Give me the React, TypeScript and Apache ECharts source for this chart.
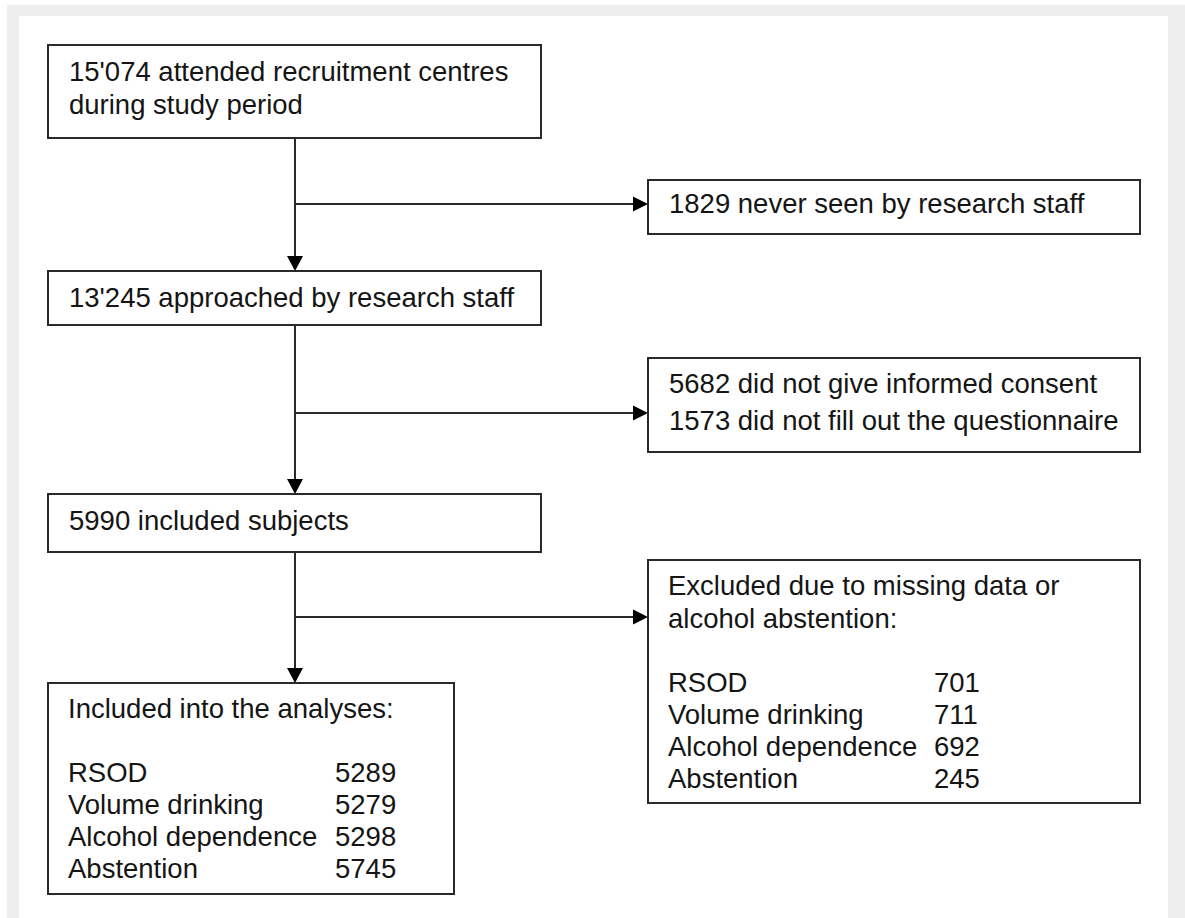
import React, { useEffect, useRef } from "react";
import * as echarts from "echarts";

// ---- Data (flow counts) ----
const stepLabels = [
  ["15'074 attended recruitment centres", "during study period"],
  ["13'245 approached by research staff"],
  ["5990 included subjects"],
];
const exclusionLabels = [
  ["1829 never seen by research staff"],
  ["5682 did not give informed consent", "1573 did not fill out the questionnaire"],
];
const outcomeNames = ["RSOD", "Volume drinking", "Alcohol dependence", "Abstention"];
const includedValues = [5289, 5279, 5298, 5745];
const excludedValues = [701, 711, 692, 245];
const includedTitle = ["Included into the analyses:"];
const excludedTitle = ["Excluded due to missing data or", "alcohol abstention:"];

const FONT = '"Liberation Sans", Arial, Helvetica, sans-serif';
const FS = 27.5;
const INK = "#151515";
const LINE = "#2a2a2a";

type Box = { x: number; y: number; w: number; h: number };

export default function App() {
  const ref = useRef<HTMLDivElement>(null);
  useEffect(() => {
    if (!ref.current) return;
    const chart = echarts.init(ref.current, undefined, { renderer: "svg" });
    const els: any[] = [];

    // frame
    els.push({ type: "rect", shape: { x: 7, y: 5, width: 1178, height: 913 }, style: { fill: "#eeeeee" }, silent: true });
    els.push({ type: "rect", shape: { x: 19, y: 16, width: 1149, height: 902 }, style: { fill: "#ffffff" }, silent: true });

    const box = (b: Box) =>
      els.push({
        type: "rect",
        shape: { x: b.x, y: b.y, width: b.w, height: b.h },
        style: { fill: "#ffffff", stroke: LINE, lineWidth: 2 },
      });
    const text = (s: string, x: number, baseline: number) =>
      els.push({
        type: "text",
        x,
        y: baseline - 9.8,
        style: { text: s, fill: INK, font: `${FS}px ${FONT}`, textAlign: "left", textVerticalAlign: "middle", verticalAlign: "middle" },
      });
    const line = (x1: number, y1: number, x2: number, y2: number) =>
      els.push({ type: "line", shape: { x1, y1, x2, y2 }, style: { stroke: LINE, lineWidth: 2 } });
    const arrowDown = (x: number, yTip: number) =>
      els.push({
        type: "polygon",
        shape: { points: [[x - 8, yTip - 15], [x + 8, yTip - 15], [x, yTip]] },
        style: { fill: "#000" },
      });
    const arrowRight = (xTip: number, y: number) =>
      els.push({
        type: "polygon",
        shape: { points: [[xTip - 15, y - 7.5], [xTip - 15, y + 7.5], [xTip, y]] },
        style: { fill: "#000" },
      });

    const leftBoxes: Box[] = [
      { x: 48, y: 45, w: 493, h: 93 },
      { x: 48, y: 271, w: 493, h: 54 },
      { x: 48, y: 494, w: 493, h: 58 },
    ];
    const rightBoxes: Box[] = [
      { x: 648, y: 180, w: 492, h: 54 },
      { x: 648, y: 358, w: 492, h: 94 },
      { x: 648, y: 560, w: 492, h: 243 },
    ];
    const finalBox: Box = { x: 48, y: 683, w: 406, h: 211 };

    const spineX = 295;
    const branchY = [204, 413, 617];
    const targetsTop = [leftBoxes[1].y, leftBoxes[2].y, finalBox.y];
    const sourcesBottom = [leftBoxes[0].y + leftBoxes[0].h, leftBoxes[1].y + leftBoxes[1].h, leftBoxes[2].y + leftBoxes[2].h];

    for (let i = 0; i < 3; i++) {
      line(spineX, sourcesBottom[i], spineX, targetsTop[i] - 12);
      arrowDown(spineX, targetsTop[i]);
      line(spineX, branchY[i], rightBoxes[i].x - 12, branchY[i]);
      arrowRight(rightBoxes[i].x, branchY[i]);
    }

    leftBoxes.forEach(box);
    rightBoxes.forEach(box);
    box(finalBox);

    // step texts
    const stepBaselines = [[81, 114], [307], [530]];
    stepLabels.forEach((lines, i) => lines.forEach((s, j) => text(s, 69, stepBaselines[i][j])));
    const exclBaselines = [[213], [393, 430]];
    exclusionLabels.forEach((lines, i) => lines.forEach((s, j) => text(s, 669, exclBaselines[i][j])));

    // excluded box
    text(excludedTitle[0], 668, 595);
    text(excludedTitle[1], 668, 628);
    const exRows = [692, 724, 756, 788];
    outcomeNames.forEach((n, i) => {
      text(n, 668, exRows[i]);
      text(String(excludedValues[i]), 934, exRows[i]);
    });

    // included box
    text(includedTitle[0], 68, 718);
    const inRows = [782, 814, 846, 878];
    outcomeNames.forEach((n, i) => {
      text(n, 68, inRows[i]);
      text(String(includedValues[i]), 335, inRows[i]);
    });

    chart.setOption({ animation: false, graphic: { elements: els } });
    return () => chart.dispose();
  }, []);

  return (
    <div
      ref={ref}
      style={{ position: "absolute", left: 0, top: 0, width: 1185, height: 918, background: "#ffffff" }}
    />
  );
}
